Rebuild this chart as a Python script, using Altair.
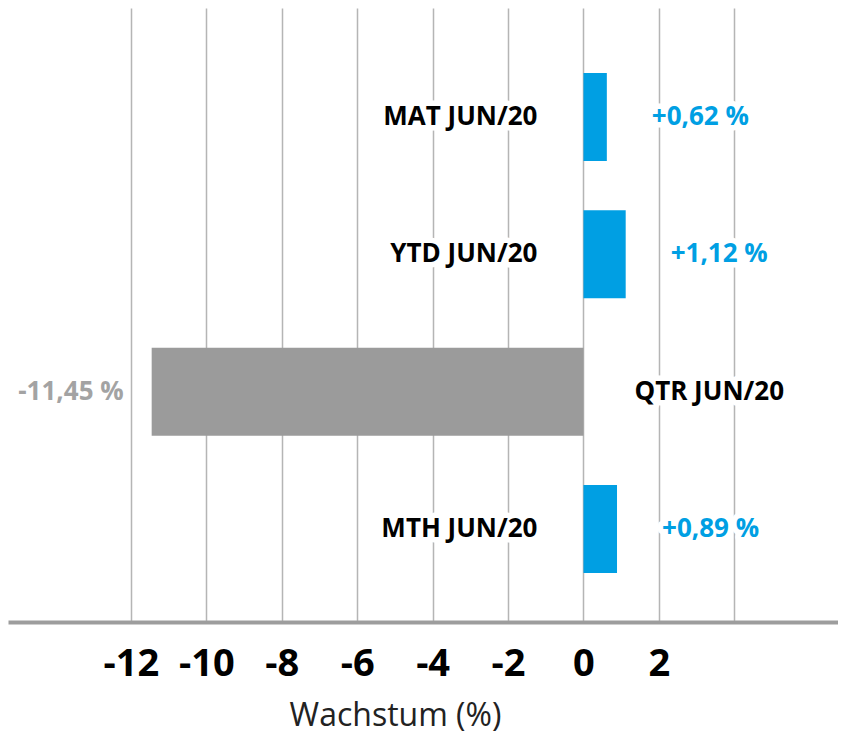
import altair as alt
import pandas as pd

# ---- data ----
categories = ["MAT JUN/20", "YTD JUN/20", "QTR JUN/20", "MTH JUN/20"]
growth = [0.62, 1.12, -11.45, 0.89]
tick_values = [-12, -10, -8, -6, -4, -2, 0, 2, 4]
axis_title = "Wachstum (%)"

df = pd.DataFrame({"cat": categories, "value": growth})
df["label"] = [f"{v:+.2f}".replace(".", ",") + " %" for v in growth]
df["zero"] = 0

BLUE = "#009FE3"
GRAY = "#9B9B9B"
LABEL_GRAY = "#A3A3A3"
FONT = "Open Sans"

x_scale = alt.Scale(domain=[-15.26, 6.75], nice=False)
x_axis = alt.Axis(
    values=tick_values,
    grid=True,
    ticks=False,
    labelExpr="datum.value > 2 ? '' : '' + datum.value",
    title=axis_title,
    labelFlush=False,
    labelOverlap=False,
)
y_enc = alt.Y(
    "cat:N",
    sort=categories,
    axis=None,
    scale=alt.Scale(paddingInner=0.359, paddingOuter=0.4156, align=0.57),
)

base = alt.Chart(df)

bars = base.mark_bar().encode(
    x=alt.X("value:Q", scale=x_scale, axis=x_axis),
    y=y_enc,
    color=alt.condition("datum.value > 0", alt.value(BLUE), alt.value(GRAY)),
)

pos = base.transform_filter("datum.value > 0")
neg = base.transform_filter("datum.value < 0")

txt = dict(font=FONT, fontSize=26, fontWeight="bold", baseline="middle")
halo = dict(stroke="white", strokeWidth=11, strokeJoin="round", fill="white")

halo_layers = []
text_layers = []


def label_layers(src, xfield, align, dx, color, textfield):
    enc = dict(
        x=alt.X(f"{xfield}:Q", scale=x_scale, axis=x_axis),
        y=y_enc,
        text=alt.Text(f"{textfield}:N"),
    )
    halo_layers.append(src.mark_text(align=align, dx=dx, **txt, **halo).encode(**enc))
    text_layers.append(src.mark_text(align=align, dx=dx, color=color, **txt).encode(**enc))


label_layers(pos, "zero", "right", -46, "black", "cat")
label_layers(pos, "value", "left", 45, BLUE, "label")
label_layers(neg, "zero", "left", 51, "black", "cat")
label_layers(neg, "value", "right", -28, LABEL_GRAY, "label")

chart = (
    alt.layer(bars, *halo_layers, *text_layers)
    .properties(
        width=830,
        height=614,
        autosize=alt.AutoSizeParams(type="none"),
        padding={"left": 0, "right": 0, "top": 0, "bottom": 125},
    )
    .configure_view(stroke=None)
    .configure_axis(
        domainColor="#9D9D9D",
        domainWidth=4,
        gridColor="#B5B5B5",
        gridWidth=1.5,
        labelFont=FONT,
        labelFontSize=38,
        labelFontWeight="bold",
        labelColor="black",
        labelPadding=23,
        titleFont=FONT,
        titleFontSize=32,
        titleFontWeight="normal",
        titleColor="#222222",
        titlePadding=17,
        titleX=387,
        titleAlign="center",
    )
)

chart.save("out.html", embed_options={"renderer": "svg", "actions": False})
